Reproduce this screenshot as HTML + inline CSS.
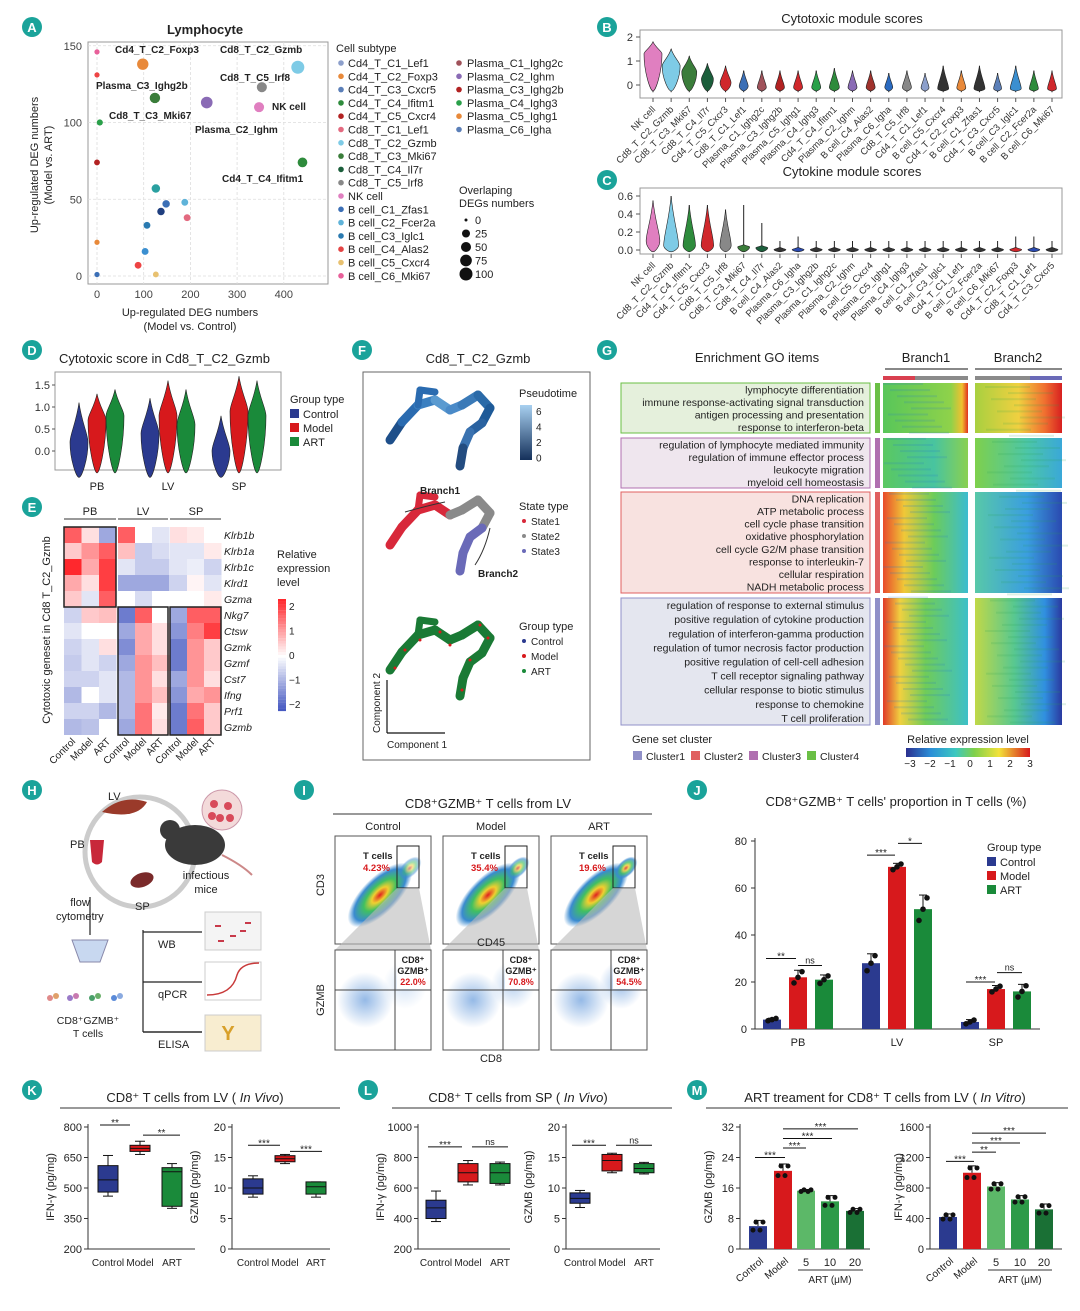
<!DOCTYPE html>
<html><head><meta charset="utf-8"><title>Lymphocyte figure</title>
<style>
html,body{margin:0;padding:0;background:#fff;}
svg text{font-family:"Liberation Sans",sans-serif;}
</style></head>
<body>
<svg id="fig" xmlns="http://www.w3.org/2000/svg" width="1080" height="1306" viewBox="0 0 1080 1306">
<defs>
<linearGradient id="gcb" x1="0" x2="1" y1="0" y2="0"><stop offset="0" stop-color="#2b2f8f"/><stop offset="0.2" stop-color="#2a8fd8"/><stop offset="0.4" stop-color="#3cc8c0"/><stop offset="0.55" stop-color="#7fd04a"/><stop offset="0.75" stop-color="#f2e23a"/><stop offset="1" stop-color="#d7191c"/></linearGradient>
<linearGradient id="gpt" x1="0" x2="0" y1="0" y2="1"><stop offset="0" stop-color="#a8d0f0"/><stop offset="1" stop-color="#14305a"/></linearGradient>
<linearGradient id="g1a" x1="0" x2="1"><stop offset="0" stop-color="#58c65a"/><stop offset="0.8" stop-color="#8fd24a"/><stop offset="0.93" stop-color="#f0c030"/><stop offset="1" stop-color="#e03020"/></linearGradient>
<linearGradient id="g1b" x1="0" x2="1"><stop offset="0" stop-color="#a8d040"/><stop offset="0.5" stop-color="#f0d040"/><stop offset="0.8" stop-color="#f07030"/><stop offset="1" stop-color="#d72020"/></linearGradient>
<linearGradient id="g2a" x1="0" x2="1"><stop offset="0" stop-color="#5ac860"/><stop offset="0.6" stop-color="#48c4a0"/><stop offset="1" stop-color="#8ad050"/></linearGradient>
<linearGradient id="g2b" x1="0" x2="1"><stop offset="0" stop-color="#7ed04c"/><stop offset="0.6" stop-color="#4cc6a8"/><stop offset="1" stop-color="#3aa8d8"/></linearGradient>
<linearGradient id="g3a" x1="0" x2="1"><stop offset="0" stop-color="#e84a2a"/><stop offset="0.25" stop-color="#f0c838"/><stop offset="0.6" stop-color="#6ccc5a"/><stop offset="1" stop-color="#3cbcd0"/></linearGradient>
<linearGradient id="g3b" x1="0" x2="1"><stop offset="0" stop-color="#58c8a8"/><stop offset="0.6" stop-color="#3a9ee0"/><stop offset="1" stop-color="#2a4ab0"/></linearGradient>
<linearGradient id="g4a" x1="0" x2="1"><stop offset="0" stop-color="#e03a28"/><stop offset="0.2" stop-color="#f0d040"/><stop offset="0.5" stop-color="#70cc58"/><stop offset="1" stop-color="#3cc0c8"/></linearGradient>
<linearGradient id="g4b" x1="0" x2="1"><stop offset="0" stop-color="#c0d848"/><stop offset="0.45" stop-color="#58c890"/><stop offset="0.8" stop-color="#3090e0"/><stop offset="1" stop-color="#2a3aa0"/></linearGradient>
<radialGradient id="gflow"><stop offset="0" stop-color="#e02020"/><stop offset="0.25" stop-color="#f0d030"/><stop offset="0.5" stop-color="#40c060"/><stop offset="0.8" stop-color="#3a8ad0"/><stop offset="1" stop-color="#3a8ad0" stop-opacity="0"/></radialGradient>
<radialGradient id="gflow2"><stop offset="0" stop-color="#7aa8e0" stop-opacity="0.8"/><stop offset="1" stop-color="#7aa8e0" stop-opacity="0"/></radialGradient>
</defs>
</svg>
<script>
// ================== DATA ==================
const aX=[0,0,98,124,235,353,430,347,440,6,0,126,148,188,193,137,107,103,88,126,0,0];
const aY=[146,131,138,116,113,123,136,110,74,100,74,57,47,48,38,42,33,16,7,1,22,1];
const aSize=[5,5,70,55,75,50,100,50,45,10,8,30,20,15,15,20,15,15,15,8,5,5];
const aCol=["#e8609a","#e44","#e8893a","#3a7d3a","#8a6bb5","#888","#7ecbe6","#e07fc0","#2e8b3c","#2aa04a","#b22222","#2aa0a0","#3b6fb6","#5fb3d9","#e36a80","#1f3f7f","#2a7ab0","#3b8fd0","#e44","#e8c170","#e8893a","#3b6fb6"];
const subtypes1=["Cd4_T_C1_Lef1","Cd4_T_C2_Foxp3","Cd4_T_C3_Cxcr5","Cd4_T_C4_Ifitm1","Cd4_T_C5_Cxcr4","Cd8_T_C1_Lef1","Cd8_T_C2_Gzmb","Cd8_T_C3_Mki67","Cd8_T_C4_Il7r","Cd8_T_C5_Irf8","NK cell","B cell_C1_Zfas1","B cell_C2_Fcer2a","B cell_C3_Iglc1","B cell_C4_Alas2","B cell_C5_Cxcr4","B cell_C6_Mki67"];
const subCol1=["#8c9fcb","#e8893a","#5b7fb8","#2e8b3c","#b22222","#e36a80","#7ecbe6","#3a7d3a","#1b5e3b","#888888","#e07fc0","#3b6fb6","#5fb3d9","#2a7ab0","#e44444","#e8c170","#e8609a"];
const subtypes2=["Plasma_C1_Ighg2c","Plasma_C2_Ighm","Plasma_C3_Ighg2b","Plasma_C4_Ighg3","Plasma_C5_Ighg1","Plasma_C6_Igha"];
const subCol2=["#a0525a","#8a6bb5","#b22222","#2aa04a","#e8893a","#5b7fb8"];
const overlapTicks=[0,25,50,75,100];

const bCats=["NK cell","Cd8_T_C2_Gzmb","Cd8_T_C3_Mki67","Cd8_T_C4_Il7r","Cd4_T_C5_Cxcr3","Cd8_T_C1_Lef1","Plasma_C1_Ighg2c","Plasma_C3_Ighg2b","Plasma_C5_Ighg1","Plasma_C4_Ighg3","Cd4_T_C4_Ifitm1","Plasma_C2_Ighm","B cell_C4_Alas2","Plasma_C6_Igha","Cd8_T_C5_Irf8","Cd4_T_C1_Lef1","B cell_C5_Cxcr4","Cd4_T_C2_Foxp3","B cell_C1_Zfas1","Cd4_T_C3_Cxcr5","B cell_C3_Iglc1","B cell_C2_Fcer2a","B cell_C6_Mki67"];
const bTop=[1.8,1.5,1.2,0.9,0.8,0.6,0.6,0.6,0.6,0.6,0.7,0.6,0.6,0.5,0.6,0.5,0.8,0.6,0.8,0.5,0.8,0.6,0.6];
const bMid=[1.3,0.8,0.55,0.25,0.1,-0.05,-0.1,-0.1,-0.1,-0.1,-0.1,-0.1,-0.1,-0.1,-0.1,-0.12,-0.15,-0.12,-0.15,-0.15,-0.15,-0.15,-0.15];
const bCol=["#e07fc0","#7ecbe6","#3a7d3a","#1b5e3b","#d0282c","#3b6fb6","#a0525a","#b22222","#d0282c","#2aa04a","#2e8b3c","#8a6bb5","#a0322c","#2a6ac0","#888888","#8c9fcb","#333333","#e8893a","#333333","#5b7fb8","#3b8fd0","#2e8b3c","#d0282c"];

const cCats=["NK cell","Cd8_T_C2_Gzmb","Cd4_T_C4_Ifitm1","Cd4_T_C5_Cxcr3","Cd8_T_C5_Irf8","Cd8_T_C3_Mki67","Cd8_T_C4_Il7r","B cell_C4_Alas2","Plasma_C6_Igha","Plasma_C3_Ighg2b","Plasma_C1_Ighg2c","Plasma_C2_Ighm","B cell_C5_Cxcr4","Plasma_C5_Ighg1","Plasma_C4_Ighg3","B cell_C1_Zfas1","B cell_C3_Iglc1","Cd4_T_C1_Lef1","B cell_C2_Fcer2a","B cell_C6_Mki67","Cd4_T_C2_Foxp3","Cd8_T_C1_Lef1","Cd4_T_C3_Cxcr5"];
const cTop=[0.55,0.6,0.5,0.5,0.45,0.5,0.3,0.1,0.15,0.1,0.1,0.1,0.1,0.1,0.1,0.1,0.1,0.1,0.1,0.1,0.15,0.15,0.1];
const cMid=[0.1,0.05,0.05,0.05,0.05,0.03,0.02,0,0,0,0,0,0,0,0,0,0,0,0,0,0,0,0];
const cCol=["#e07fc0","#7ecbe6","#2e8b3c","#d0282c","#888888","#3a7d3a","#1b5e3b","#333","#2a4ab0","#333","#333","#333","#333","#333","#333","#333","#333","#333","#333","#333","#d0282c","#2a4ab0","#333"];

const dGroups=["PB","LV","SP"];
const dTop=[[1.1,1.3,1.4],[1.2,1.6,1.4],[0.8,1.7,1.6]];
const dBulk=[[0.2,0.7,0.8],[0.4,0.8,0.6],[0.0,0.9,0.8]];
const dBot=[[-0.6,-0.5,-0.5],[-0.6,-0.5,-0.5],[-0.6,-0.5,-0.5]];
const grpNames=["Control","Model","ART"];
const grpCol=["#2b3a8f","#d7191c","#1a8a3a"];

const eGenes=["Klrb1b","Klrb1a","Klrb1c","Klrd1","Gzma","Nkg7","Ctsw","Gzmk","Gzmf","Cst7","Ifng","Prf1","Gzmb"];
const eVals=[
[1.5,0.3,-1,1.5,0,-0.3,0.3,0.2,0],
[0.5,1,1.5,0.6,-0.6,-0.4,-0.3,-0.3,0.2],
[2,0.8,1.8,-0.3,-0.6,-0.6,-0.3,-0.2,-0.5],
[0.8,0.3,1.8,-1,-1,-1,-0.5,0.1,-0.3],
[0.5,-0.3,1.5,0,-0.4,0,0,0,0.2],
[-0.5,0.5,0.6,-1.5,1.5,0,-1,1.5,1.5],
[-0.3,0,0,-1,0.8,0.3,-1.2,1.2,1.8],
[-0.5,-0.3,0.3,-1.3,0.8,0.3,-1.5,1,0.5],
[-0.6,-0.3,-0.5,-1,1,0.6,-1.5,1,0.5],
[-0.5,-0.5,-0.3,-0.8,1,0.3,-1,1,0.3],
[-0.8,0,-0.3,-0.8,1,0.6,-1.2,0.8,1],
[-0.5,-0.5,-0.8,-0.8,1.3,0.2,-1.5,1.3,0.5],
[-0.8,-0.7,0,-1,1.3,0.3,-1.5,1.5,0.5]];
const eTicks=[2,1,0,-1,-2];

const goC1=["lymphocyte differentiation","immune response-activating signal transduction","antigen processing and presentation","response to interferon-beta"];
const goC2=["regulation of lymphocyte mediated immunity","regulation of immune effector process","leukocyte migration","myeloid cell homeostasis"];
const goC3=["DNA replication","ATP metabolic process","cell cycle phase transition","oxidative phosphorylation","cell cycle G2/M phase transition","response to interleukin-7","cellular respiration","NADH metabolic process"];
const goC4=["regulation of response to external stimulus","positive regulation of cytokine production","regulation of interferon-gamma production","regulation of tumor necrosis factor production","positive regulation of cell-cell adhesion","T cell receptor signaling pathway","cellular response to biotic stimulus","response to chemokine","T cell proliferation"];
const gTicks=[-3,-2,-1,0,1,2,3];

const flowGroups=["Control","Model","ART"];
const flowT=["4.23%","35.4%","19.6%"];
const flowG=["22.0%","70.8%","54.5%"];

const jGroups=["PB","LV","SP"];
const jVals=[[4,22,21],[28,69,51],[3,17,16]];
const jErr=[[0.6,3,2],[4,1.5,6],[1,1.5,3]];
const jTicks=[0,20,40,60,80];

const kIfn=[[460,480,540,610,660],[665,680,695,710,730],[400,410,580,600,620]];
const kGz=[[8.5,9,10,11.5,12],[14,14.3,14.8,15.3,15.5],[8.5,9,10.2,11,11]];
const lIfn=[[380,400,470,520,580],[620,640,700,760,780],[620,630,700,760,770]];
const lGz=[[6.8,7.5,8.3,9.2,9.6],[12.5,12.8,14.5,15.5,15.7],[12.3,12.5,13.2,14,14.2]];
const mCats=["Control","Model","5","10","20"];
const mGz=[6,20.5,15.3,12.5,10];
const mGzErr=[1.5,1.8,0.3,1.5,0.6];
const mIfn=[420,1000,820,650,520];
const mIfnErr=[40,90,50,50,70];
const mCol=["#2b3a8f","#d7191c","#5cb868","#2e9a48","#1a7035"];

// ================== HELPERS ==================
const NS="http://www.w3.org/2000/svg";
const svg=document.getElementById('fig');
function E(tag,attrs,name,parent){
  const el=document.createElementNS(NS,tag);
  for(const k in attrs) el.setAttribute(k,attrs[k]);
  
  
  (parent||svg).appendChild(el);
  return el;
}
function T(x,y,txt,o,name){
  o=o||{};
  const a={x:x,y:y,'font-size':o.fs||11,fill:o.fill||'#222','text-anchor':o.anchor||'start'};
  if(o.bold) a['font-weight']='bold';
  if(o.italic) a['font-style']='italic';
  if(o.rot!==undefined) a.transform='rotate('+o.rot+' '+x+' '+y+')';
  const el=E('text',a,name||'label');
  el.textContent=txt;
  return el;
}
function TT(x,y,parts,name){
  const el=E('text',{x:x,y:y,'font-size':13,fill:'#222','text-anchor':'middle'},name);
  parts.forEach(p=>{const s=document.createElementNS(NS,'tspan');if(p[1])s.setAttribute('font-style','italic');s.textContent=p[0];el.appendChild(s);});
  return el;
}
function L(x1,y1,x2,y2,st,w,name,dash){const a={x1:x1,y1:y1,x2:x2,y2:y2,stroke:st||'#333','stroke-width':w||1};if(dash)a['stroke-dasharray']=dash;return E('line',a,name||'line');}
function R(x,y,w,h,f,name,st){const a={x:x,y:y,width:w,height:h,fill:f};if(st){a.stroke=st;a['stroke-width']=1;}return E('rect',a,name||'rect');}
function badge(x,y,l){E('circle',{cx:x,cy:y,r:10,fill:'#1aa39a'},'panel-badge-'+l);T(x,y+5,l,{fs:13,bold:1,fill:'#fff',anchor:'middle'},'panel-letter-'+l);}
function violin(cx,yTop,yMid,yBot,hw,col,name){
  const d='M'+cx+','+yTop+' C'+(cx+hw*0.3)+','+(yTop+(yMid-yTop)*0.5)+' '+(cx+hw)+','+(yMid-(yMid-yTop)*0.2)+' '+(cx+hw)+','+yMid+' C'+(cx+hw)+','+(yMid+(yBot-yMid)*0.5)+' '+(cx+hw*0.3)+','+yBot+' '+cx+','+yBot+' C'+(cx-hw*0.3)+','+yBot+' '+(cx-hw)+','+(yMid+(yBot-yMid)*0.5)+' '+(cx-hw)+','+yMid+' C'+(cx-hw)+','+(yMid-(yMid-yTop)*0.2)+' '+(cx-hw*0.3)+','+(yTop+(yMid-yTop)*0.5)+' '+cx+','+yTop+'Z';
  return E('path',{d:d,fill:col,stroke:'#222','stroke-width':0.6},name);
}
function divColor(v){
  const t=Math.max(-1,Math.min(1,v/2));
  let r,g,b;
  if(t>=0){r=255;g=Math.round(255-t*(255-40));b=Math.round(255-t*(255-45));}
  else{const u=-t;r=Math.round(255-u*(255-60));g=Math.round(255-u*(255-80));b=Math.round(255-u*(255-190));}
  return 'rgb('+r+','+g+','+b+')';
}

// ================== PANEL A ==================
badge(32,27,'A');
T(205,34,'Lymphocyte',{fs:13,bold:1,anchor:'middle'},'panel-a-title');
const ax=v=>97+v*0.467, ay=v=>276-v*1.535;
R(88,42,240,242,'none','panel-a-frame','#999');
[0,100,200,300,400].forEach(v=>{L(ax(v),42,ax(v),284,'#ddd',0.8,'grid-x','3,2');T(ax(v),298,String(v),{fs:11,anchor:'middle',fill:'#444'},'x-tick-label');});
[0,50,100,150].forEach(v=>{L(88,ay(v),328,ay(v),'#ddd',0.8,'grid-y','3,2');T(82,ay(v)+4,String(v),{fs:11,anchor:'end',fill:'#444'},'y-tick-label');});
T(190,316,'Up-regulated DEG numbers',{fs:11,anchor:'middle'},'x-axis-title');
T(190,330,'(Model vs. Control)',{fs:11,anchor:'middle'},'x-axis-title-2');
T(38,165,'Up-regulated DEG numbers',{fs:11,anchor:'middle',rot:-90},'y-axis-title');
T(52,165,'(Model vs. ART)',{fs:11,anchor:'middle',rot:-90},'y-axis-title-2');
aX.forEach((v,i)=>{E('circle',{cx:ax(v),cy:ay(aY[i]),r:1.5+Math.sqrt(aSize[i])*0.5,fill:aCol[i]},'scatter-point');});
[[115,53,'Cd4_T_C2_Foxp3'],[220,53,'Cd8_T_C2_Gzmb'],[96,89,'Plasma_C3_Ighg2b'],[220,81,'Cd8_T_C5_Irf8'],[109,119,'Cd8_T_C3_Mki67'],[272,110,'NK cell'],[195,133,'Plasma_C2_Ighm'],[222,182,'Cd4_T_C4_Ifitm1']].forEach(p=>T(p[0],p[1],p[2],{fs:10,bold:1},'point-annotation'));
T(336,52,'Cell subtype',{fs:11},'legend-title');
subtypes1.forEach((s,i)=>{E('circle',{cx:341,cy:63+i*13.3,r:2.8,fill:subCol1[i]},'legend-dot');T(348,67+i*13.3,s,{fs:11},'legend-entry');});
subtypes2.forEach((s,i)=>{E('circle',{cx:459,cy:63+i*13.3,r:2.8,fill:subCol2[i]},'legend-dot');T(467,67+i*13.3,s,{fs:11},'legend-entry');});
T(459,194,'Overlaping',{fs:11},'size-legend-title');T(459,207,'DEGs numbers',{fs:11},'size-legend-title-2');
overlapTicks.forEach((v,i)=>{E('circle',{cx:466,cy:220+i*13.5,r:1.5+Math.sqrt(v)*0.5,fill:'#111'},'size-legend-dot');T(475,224+i*13.5,String(v),{fs:11},'size-legend-label');});

// ================== PANEL B / C ==================
function violinPanel(letter,by,title,cats,tops,mids,cols,ymin,ymax,y0px,ypx,ticks,tickFmt,framey,frameh){
  badge(607,by,letter);
  T(852,by-4,title,{fs:13,anchor:'middle'},'panel-'+letter+'-title');
  R(640,framey,422,frameh,'none','panel-'+letter+'-frame','#999');
  const sy=v=>y0px-v*ypx;
  ticks.forEach(v=>{L(636,sy(v),640,sy(v),'#555',1,'y-tick');T(633,sy(v)+4,tickFmt(v),{fs:11,anchor:'end',fill:'#333'},'y-tick-label');});
  const n=cats.length, x0=653, dx=(1052-653)/(n-1);
  cats.forEach((c,i)=>{
    const cx=x0+i*dx;
    const big=mids[i]>ymin+0.05;
    const hw=big?Math.max(4,Math.min(9,(tops[i]-ymin)*(ymax>1?5:12))):6;
    L(cx,sy(tops[i]),cx,sy(ymin),'#222',1,'violin-whisker');
    if(big) violin(cx,sy(tops[i]),sy(mids[i]),sy(ymin+(ymax>1?0.05:0)),hw,cols[i],'violin-'+c);
    else violin(cx,sy(mids[i]+(ymax>1?0.35:0.03)),sy(mids[i]+(ymax>1?0.05:0.005)),sy(ymin),hw,cols[i],'violin-'+c);
    L(cx,framey+frameh,cx,framey+frameh+4,'#555',1,'x-tick');
    T(cx+3,framey+frameh+12,c,{fs:9.5,anchor:'end',rot:-45,fill:'#333'},'x-tick-label');
  });
}
violinPanel('B',27,'Cytotoxic module scores',bCats,bTop,bMid,bCol,-0.3,2,85,24,[0,1,2],v=>String(v),30,68);
violinPanel('C',180,'Cytokine module scores',cCats,cTop,cMid,cCol,-0.02,0.6,250,90,[0,0.2,0.4,0.6],v=>v.toFixed(1),188,66);

// ================== PANEL D ==================
badge(32,350,'D');
T(59,363,'Cytotoxic score in Cd8_T_C2_Gzmb',{fs:13,anchor:'start'},'panel-d-title');
R(55,372,226,98,'none','panel-d-frame','#999');
const dy=v=>451-v*44;
[0,0.5,1,1.5].forEach(v=>{L(52,dy(v),55,dy(v),'#555',1,'y-tick');T(50,dy(v)+4,v.toFixed(1),{fs:11,anchor:'end',fill:'#333'},'y-tick-label');});
dGroups.forEach((g,gi)=>{
  const gc=97+gi*71;
  grpNames.forEach((n,k)=>{violin(gc-18+k*18,dy(dTop[gi][k]),dy(dBulk[gi][k]),dy(dBot[gi][k]),9,grpCol[k],'violin-'+g+'-'+n);});
  T(gc,490,g,{fs:11,anchor:'middle'},'x-tick-label');
});
T(290,403,'Group type',{fs:11},'legend-title');
grpNames.forEach((n,k)=>{R(290,409+k*14,9,9,grpCol[k],'legend-swatch');T(303,418+k*14,n,{fs:11},'legend-entry');});

// ================== PANEL E ==================
badge(32,507,'E');
const eCol=[64,81.5,99,118,135,152,170,187,204];
[['PB',90],['LV',143],['SP',196]].forEach(p=>T(p[1],515,p[0],{fs:11,anchor:'middle'},'heatmap-group-label'));
L(64,519,116,519,'#333',1,'group-line');L(118,519,168,519,'#333',1,'group-line');L(170,519,221,519,'#333',1,'group-line');
eGenes.forEach((g,r)=>{
  eVals[r].forEach((v,c)=>{R(eCol[c],527+r*16,17.5,16,divColor(v),'heatmap-cell-'+g);});
  T(224,539+r*16,g,{fs:10.5,italic:1},'gene-label');
});
R(64,527,52,80,'none','highlight-box','#222').setAttribute('stroke-width','1.5');
R(118,607,50,128,'none','highlight-box','#222').setAttribute('stroke-width','1.5');
R(170,607,51,128,'none','highlight-box','#222').setAttribute('stroke-width','1.5');
T(50,630,'Cytotoxic geneset in Cd8 T_C2_Gzmb',{fs:11,anchor:'middle',rot:-90},'y-axis-title');
grpNames.concat(grpNames,grpNames).forEach((n,i)=>T(eCol[i]+12,742,n,{fs:10,anchor:'end',rot:-45},'x-tick-label'));
T(277,558,'Relative',{fs:11},'colorbar-title');T(277,572,'expression',{fs:11},'colorbar-title-2');T(277,586,'level',{fs:11},'colorbar-title-3');
for(let i=0;i<40;i++){R(278,599+i*2.8,8,2.9,divColor(2-i*0.1),'colorbar-step');}
eTicks.forEach((v,i)=>T(289,610+i*24.5,String(v).replace('-','−'),{fs:10},'colorbar-tick'));

// ================== PANEL F ==================
badge(362,350,'F');
R(363,372,227,388,'none','panel-f-frame','#666');
T(478,363,'Cd8_T_C2_Gzmb',{fs:13,anchor:'middle'},'panel-f-title');
const treeMain=[[390,440],[402,422],[418,405],[435,400],[450,410],[462,405],[478,395],[490,408],[482,423],[470,432],[463,448],[460,466]];
const treeSide=[[418,405],[420,390],[435,392]];
function tree(oy,cols,name){
  for(let i=0;i<treeMain.length-1;i++){
    E('line',{x1:treeMain[i][0],y1:treeMain[i][1]+oy,x2:treeMain[i+1][0],y2:treeMain[i+1][1]+oy,stroke:cols(i),'stroke-width':9,'stroke-linecap':'round'},name);
  }
  for(let i=0;i<treeSide.length-1;i++){E('line',{x1:treeSide[i][0],y1:treeSide[i][1]+oy,x2:treeSide[i+1][0],y2:treeSide[i+1][1]+oy,stroke:cols(1),'stroke-width':7,'stroke-linecap':'round'},name);}
}
tree(0,i=>['#1e4f8a','#2a6bb0','#3a7fc0','#5a9ad0','#4a8ac8','#3a7ab8','#2a6aa8','#1e5a98','#2a62a0','#3a72b0','#234c80'][i]||'#234c80','trajectory-pseudotime');
tree(105,i=>i<4?'#d8283a':(i<8?'#8a8a8a':'#6a6ab8'),'trajectory-state');
tree(230,i=>'#1a7a35','trajectory-group');
[[395,668],[420,640],[450,645],[480,625],[470,660],[462,690],[405,650],[440,632],[488,638]].forEach(p=>E('circle',{cx:p[0],cy:p[1],r:1.5,fill:'#d7191c'},'model-cell-dot'));
T(420,494,'Branch1',{fs:10,bold:1},'branch1-label');T(478,577,'Branch2',{fs:10,bold:1},'branch2-label');
E('path',{d:'M445,502 Q430,505 405,512',fill:'none',stroke:'#333','stroke-width':1},'branch1-arrow');
E('path',{d:'M490,528 Q485,550 475,565',fill:'none',stroke:'#333','stroke-width':1},'branch2-arrow');
T(519,397,'Pseudotime',{fs:11},'pseudotime-title');
R(520,405,12,55,'url(#gpt)','pseudotime-colorbar');
[6,4,2,0].forEach((v,i)=>T(536,415+i*15.5,String(v),{fs:10},'pseudotime-tick'));
T(519,510,'State type',{fs:11},'state-legend-title');
['State1','State2','State3'].forEach((s,i)=>{E('circle',{cx:524,cy:521+i*15,r:2,fill:['#d8283a','#8a8a8a','#6a6ab8'][i]},'legend-dot');T(531,525+i*15,s,{fs:10},'legend-entry');});
T(519,630,'Group type',{fs:11},'group-legend-title');
grpNames.forEach((s,i)=>{E('circle',{cx:524,cy:641+i*15,r:2,fill:grpCol[i]},'legend-dot');T(531,645+i*15,s,{fs:10},'legend-entry');});
L(387,733,445,733,'#111',1.2,'component1-axis');L(387,733,387,680,'#111',1.2,'component2-axis');
T(387,748,'Component 1',{fs:10},'component1-label');T(380,733,'Component 2',{fs:10,rot:-90},'component2-label');

// ================== PANEL G ==================
badge(607,350,'G');
T(757,362,'Enrichment GO items',{fs:13,anchor:'middle'},'panel-g-title');
T(926,362,'Branch1',{fs:13,anchor:'middle'},'branch1-title');T(1018,362,'Branch2',{fs:13,anchor:'middle'},'branch2-title');
L(885,369,968,369,'#111',1,'branch1-arrow');L(975,369,1062,369,'#111',1,'branch2-arrow');
R(883,376,32,4,'#d94050','branch1-state-bar');R(915,376,53,4,'#8a8a8a','branch1-state-bar');
R(975,376,55,4,'#8a8a8a','branch2-state-bar');R(1030,376,32,4,'#6a6ab8','branch2-state-bar');
const gClusters=[[383,50,goC1,'#e5f0dc','#6abf45','g1'],[438,50,goC2,'#efe6ee','#b070b0','g2'],[492,101,goC3,'#f8e2e0','#e06060','g3'],[598,127,goC4,'#e4e6ef','#9090c8','g4']];
gClusters.forEach((c,ci)=>{
  R(621,c[0],249,c[1],c[3],'go-cluster-box',c[4]);
  R(875,c[0],5,c[1],c[4],'cluster-strip');
  R(883,c[0],85,c[1],'url(#'+c[5]+'a)','heatmap-branch1-cluster'+(ci+1));
  R(975,c[0],87,c[1],'url(#'+c[5]+'b)','heatmap-branch2-cluster'+(ci+1));
  const sp=c[1]/c[2].length;
  c[2].forEach((t,i)=>T(864,c[0]+sp*i+sp/2+4,t,{fs:10.5,anchor:'end'},'go-term'));
});
for(let i=0;i<56;i++){const yy=383+i*6.1;R(883+(i*37)%30,yy,40,2,'rgba(40,120,200,0.18)','heatmap-texture');R(985+(i*23)%40,yy+3,45,2,'rgba(40,160,80,0.15)','heatmap-texture');}
T(632,743,'Gene set cluster',{fs:11},'cluster-legend-title');
[['Cluster1','#9090c8'],['Cluster2','#e06060'],['Cluster3','#b070b0'],['Cluster4','#6abf45']].forEach((c,i)=>{R(633+i*58,751,9,9,c[1],'legend-swatch');T(646+i*58,760,c[0],{fs:10.5},'legend-entry');});
T(968,743,'Relative expression level',{fs:11,anchor:'middle'},'colorbar-title');
R(906,748,124,9,'url(#gcb)','g-colorbar');
gTicks.forEach((v,i)=>T(910+i*20,767,String(v).replace('-','−'),{fs:10,anchor:'middle'},'colorbar-tick'));

// ================== PANEL H ==================
badge(32,790,'H');
E('circle',{cx:140,cy:852,r:55,fill:'none',stroke:'#ccc','stroke-width':5},'circulation-ring');
E('path',{d:'M102,812 q20,-18 45,-10 q-10,18 -45,10z',fill:'#9a3a2a'},'liver-icon');
E('path',{d:'M90,840 l14,0 l-2,22 q-5,5 -10,0z',fill:'#c8283a'},'blood-tube-icon');
E('ellipse',{cx:142,cy:880,rx:12,ry:7,fill:'#7a2a2a',transform:'rotate(-20 142 880)'},'spleen-icon');
E('ellipse',{cx:195,cy:845,rx:30,ry:20,fill:'#3a3a3a'},'mouse-body');
E('circle',{cx:170,cy:830,r:10,fill:'#3a3a3a'},'mouse-head');
E('path',{d:'M222,855 q20,10 30,20',fill:'none',stroke:'#c88','stroke-width':2},'mouse-tail');
E('circle',{cx:222,cy:810,r:20,fill:'#f3dada',stroke:'#c9a','stroke-width':1},'cell-magnifier');
[[214,804],[228,806],[220,818],[212,816],[230,818]].forEach(p=>E('circle',{cx:p[0],cy:p[1],r:4,fill:'#d84a5a'},'infected-cell'));
T(108,800,'LV',{fs:11},'lv-label');T(70,848,'PB',{fs:11},'pb-label');T(135,910,'SP',{fs:11},'sp-label');
T(206,879,'infectious',{fs:11,anchor:'middle'},'infectious-label');T(206,893,'mice',{fs:11,anchor:'middle'},'mice-label');
T(80,906,'flow',{fs:11,anchor:'middle'},'flow-label');T(56,920,'cytometry',{fs:11},'cytometry-label');
L(90,897,90,935,'#222',1.2,'arrow');
E('path',{d:'M72,940 l36,0 l-8,22 l-20,0z',fill:'#c8d8f0',stroke:'#88a'},'funnel');
[[50,998],[70,998],[92,998],[114,998]].forEach((p,i)=>{E('circle',{cx:p[0],cy:p[1],r:3,fill:['#e08a8a','#9a7ac8','#4aa06a','#5a8ad8'][i]},'sorted-cells');E('circle',{cx:p[0]+6,cy:p[1]-2,r:3,fill:['#e0a06a','#c87ab0','#6ab06a','#8aaae0'][i]},'sorted-cells');});
T(88,1024,'CD8⁺GZMB⁺',{fs:10.5,anchor:'middle'},'cd8-label');T(88,1037,'T cells',{fs:10.5,anchor:'middle'},'tcells-label');
L(143,930,143,1032,'#222',1.2,'branch-line');
[[944,'WB'],[994,'qPCR'],[1044,'ELISA']].forEach(p=>{L(143,p[0]-12,202,p[0]-12,'#222',1.2,'arrow');T(158,p[0]+4,p[1],{fs:11},'assay-label');});
L(143,1032,202,1032,'#222',1.2,'arrow');
R(205,912,56,38,'#f4f4f4','wb-image','#ccc');
[[215,925],[230,935],[245,922],[218,940],[240,930]].forEach(p=>R(p[0],p[1],6,2,'#c83a4a','wb-band'));
R(205,962,56,38,'#fff','qpcr-image','#ccc');
E('path',{d:'M207,995 q25,0 30,-20 q4,-12 22,-12',fill:'none',stroke:'#c83a3a','stroke-width':1.5},'qpcr-curve');
R(205,1015,56,36,'#f8edd0','elisa-image','#ccc');
T(228,1040,'Y',{fs:20,bold:1,fill:'#d8a02a',anchor:'middle'},'antibody-icon');

// ================== PANEL I ==================
badge(304,790,'I');
T(488,808,'CD8⁺GZMB⁺ T cells from LV',{fs:13,anchor:'middle'},'panel-i-title');
L(333,814,652,814,'#333',1,'title-rule');
const fx=[335,443,551];
flowGroups.forEach((g,i)=>{
  const x=fx[i];
  T(x+48,830,g,{fs:11,anchor:'middle'},'flow-group-label');
  R(x,836,96,108,'#fff','flow-plot-top','#555');
  E('ellipse',{cx:x+45,cy:895,rx:42,ry:18,fill:'url(#gflow)',transform:'rotate(-45 '+(x+45)+' 895)'},'flow-density');
  E('ellipse',{cx:x+75,cy:868,rx:14,ry:8,fill:'url(#gflow)',opacity:0.5+i*0.15,transform:'rotate(-45 '+(x+75)+' 868)'},'flow-density-gate');
  R(x+62,846,22,42,'none','t-cell-gate','#222');
  T(x+28,859,'T cells',{fs:9.5,bold:1},'gate-label');T(x+28,871,flowT[i],{fs:9.5,bold:1,fill:'#d7191c'},'gate-percent');
  E('path',{d:'M'+(x+62)+',888 L'+(x+84)+',888 L'+(x+96)+',950 L'+x+',950Z',fill:'#bbb',opacity:0.6},'gate-zoom-connector');
  R(x,950,96,100,'#fff','flow-plot-bottom','#555');
  E('ellipse',{cx:x+30,cy:1000,rx:28,ry:28,fill:'url(#gflow2)'},'flow-scatter');
  E('ellipse',{cx:x+70,cy:985,rx:22,ry:24,fill:'url(#gflow2)',opacity:0.4+i*0.25},'flow-scatter');
  L(x,990,x+96,990,'#444',1,'quadrant-h');L(x+60,950,x+60,1050,'#444',1,'quadrant-v');
  R(x+62,953,32,36,'#fff','quadrant-label-bg');
  T(x+78,963,'CD8⁺',{fs:9,bold:1,anchor:'middle'},'q-label');T(x+78,974,'GZMB⁺',{fs:9,bold:1,anchor:'middle'},'q-label');T(x+78,985,flowG[i],{fs:9,bold:1,fill:'#d7191c',anchor:'middle'},'q-percent');
});
T(324,885,'CD3',{fs:11,anchor:'middle',rot:-90},'cd3-axis-label');T(491,946,'CD45',{fs:11,anchor:'middle'},'cd45-axis-label');
T(324,1000,'GZMB',{fs:11,anchor:'middle',rot:-90},'gzmb-axis-label');T(491,1062,'CD8',{fs:11,anchor:'middle'},'cd8-axis-label');

// ================== PANEL J ==================
badge(697,790,'J');
T(896,806,'CD8⁺GZMB⁺ T cells\' proportion in T cells (%)',{fs:13,anchor:'middle'},'panel-j-title');
const jy=v=>1029-v*2.35;
L(755,838,755,1029,'#333',1,'y-axis');L(755,1029,1040,1029,'#333',1,'x-axis');
jTicks.forEach(v=>{L(751,jy(v),755,jy(v),'#333',1,'y-tick');T(747,jy(v)+4,String(v),{fs:11,anchor:'end'},'y-tick-label');});
jGroups.forEach((g,gi)=>{
  const gc=798+gi*99;
  jVals[gi].forEach((v,k)=>{
    const cx=gc-26+k*26;
    R(cx-9,jy(v),18,jy(0)-jy(v),grpCol[k],'bar-'+g+'-'+grpNames[k]);
    L(cx,jy(v+jErr[gi][k]),cx,jy(v),'#111',1,'error-bar');L(cx-4,jy(v+jErr[gi][k]),cx+4,jy(v+jErr[gi][k]),'#111',1,'error-cap');
    [-4,0,4].forEach((o,j)=>E('circle',{cx:cx+o,cy:jy(v+(j-1)*jErr[gi][k]*0.8),r:2.8,fill:'#111'},'data-point'));
  });
  T(gc,1046,g,{fs:11,anchor:'middle'},'x-tick-label');
});
function bracket(x1,x2,y,lab,name){L(x1,y,x2,y,'#111',1,name||'sig-bracket');T((x1+x2)/2,lab==='ns'?y-2:y+1,lab,{fs:lab==='ns'?9:10,anchor:'middle'},'sig-label');}
bracket(766,796,jy(30),'**');bracket(798,822,jy(27),'ns');bracket(867,895,jy(74),'***');bracket(898,922,jy(79),'*');bracket(966,995,jy(20),'***');bracket(997,1022,jy(24),'ns');
T(987,851,'Group type',{fs:11},'legend-title');
grpNames.forEach((n,k)=>{R(987,857+k*14,9,9,grpCol[k],'legend-swatch');T(1000,866+k*14,n,{fs:11},'legend-entry');});

// ================== PANELS K/L (box plots) ==================
function boxPlot(x0,x1,ymin,ymax,ticks,data,ylab,xs,brs){
  const sy=v=>1249-(v-ymin)/(ymax-ymin)*122;
  L(x0,1124,x0,1249,'#333',1,'y-axis');L(x0,1249,x1,1249,'#333',1,'x-axis');
  ticks.forEach(v=>{L(x0-4,sy(v),x0,sy(v),'#333',1,'y-tick');T(x0-6,sy(v)+4,String(v),{fs:11,anchor:'end'},'y-tick-label');});
  T(x0-34,1187,ylab,{fs:11,anchor:'middle',rot:-90},'y-axis-title');
  data.forEach((d,k)=>{
    const cx=xs[k];
    L(cx,sy(d[0]),cx,sy(d[4]),'#111',1,'whisker');L(cx-5,sy(d[0]),cx+5,sy(d[0]),'#111',1,'whisker-cap');L(cx-5,sy(d[4]),cx+5,sy(d[4]),'#111',1,'whisker-cap');
    R(cx-10,sy(d[3]),20,sy(d[1])-sy(d[3]),grpCol[k],'box-'+grpNames[k],'#111');
    L(cx-10,sy(d[2]),cx+10,sy(d[2]),'#111',1,'median');
    T(cx,1266,grpNames[k],{fs:10,anchor:'middle'},'x-tick-label');
  });
  brs.forEach(b=>bracket(b[0],b[1],sy(b[2]),b[3]));
}
badge(32,1090,'K');
TT(195,1102,[['CD8⁺ T cells from LV ( ',0],['In Vivo',1],[')',0]],'panel-k-title');
L(60,1108,340,1108,'#333',1,'title-rule');
boxPlot(88,195,200,800,[200,350,500,650,800],kIfn,'IFN-γ (pg/mg)',[108,140,172],[[100,130,810,'**'],[143,180,760,'**']]);
boxPlot(232,330,0,20,[0,5,10,15,20],kGz,'GZMB (pg/mg)',[253,285,316],[[248,280,17,'***'],[290,322,16,'***']]);
badge(368,1090,'L');
TT(518,1102,[['CD8⁺ T cells from SP ( ',0],['In Vivo',1],[')',0]],'panel-l-title');
L(392,1108,672,1108,'#333',1,'title-rule');
boxPlot(418,510,200,1000,[200,400,600,800,1000],lIfn,'IFN-γ (pg/mg)',[436,468,500],[[428,462,870,'***'],[472,508,870,'ns']]);
boxPlot(566,660,0,20,[0,5,10,15,20],lGz,'GZMB (pg/mg)',[580,612,644],[[572,606,17,'***'],[616,652,17,'ns']]);

// ================== PANEL M ==================
badge(697,1090,'M');
TT(885,1102,[['ART treament for CD8⁺ T cells from LV ( ',0],['In Vitro',1],[')',0]],'panel-m-title');
L(706,1108,1068,1108,'#333',1,'title-rule');
function barPanel(x0,x1,ymax,ticks,vals,errs,ylab,xs,brs){
  const sy=v=>1249-v/ymax*122;
  L(x0,1124,x0,1249,'#333',1,'y-axis');L(x0,1249,x1,1249,'#333',1,'x-axis');
  ticks.forEach(v=>{L(x0-4,sy(v),x0,sy(v),'#333',1,'y-tick');T(x0-6,sy(v)+4,String(v),{fs:11,anchor:'end'},'y-tick-label');});
  T(x0-28,1187,ylab,{fs:11,anchor:'middle',rot:-90},'y-axis-title');
  vals.forEach((v,k)=>{
    const cx=xs[k];
    R(cx-9,sy(v),18,sy(0)-sy(v),mCol[k],'bar-'+mCats[k]);
    L(cx,sy(v+errs[k]),cx,sy(v),'#111',1,'error-bar');L(cx-4,sy(v+errs[k]),cx+4,sy(v+errs[k]),'#111',1,'error-cap');
    [-5,-2,2,5].forEach((o,j)=>E('circle',{cx:cx+o,cy:sy(v+(j%2?1:-1)*errs[k]*0.7),r:2.5,fill:'#111'},'data-point'));
    if(k<2) T(cx+6,1262,mCats[k],{fs:10,anchor:'end',rot:-40},'x-tick-label');
    else T(cx,1266,mCats[k],{fs:11,anchor:'middle'},'x-tick-label');
  });
  L(xs[2]-8,1270,xs[4]+8,1270,'#333',1,'art-dose-rule');
  T(xs[3],1283,'ART (μM)',{fs:10,anchor:'middle'},'art-dose-label');
  brs.forEach(b=>bracket(b[0],b[1],sy(b[2]),b[3]));
}
barPanel(740,870,32,[0,8,16,24,32],mGz,mGzErr,'GZMB (pg/mg)',[758,783,806,830,855],[[755,785,24,'***'],[783,806,26.5,'***'],[783,832,29,'***'],[783,858,31.5,'***']]);
barPanel(930,1062,1600,[0,400,800,1200,1600],mIfn,mIfnErr,'IFN-γ (pg/mg)',[948,972,996,1020,1044],[[946,974,1150,'***'],[972,996,1270,'**'],[972,1020,1390,'***'],[972,1046,1520,'***']]);
</script>
</body></html>
